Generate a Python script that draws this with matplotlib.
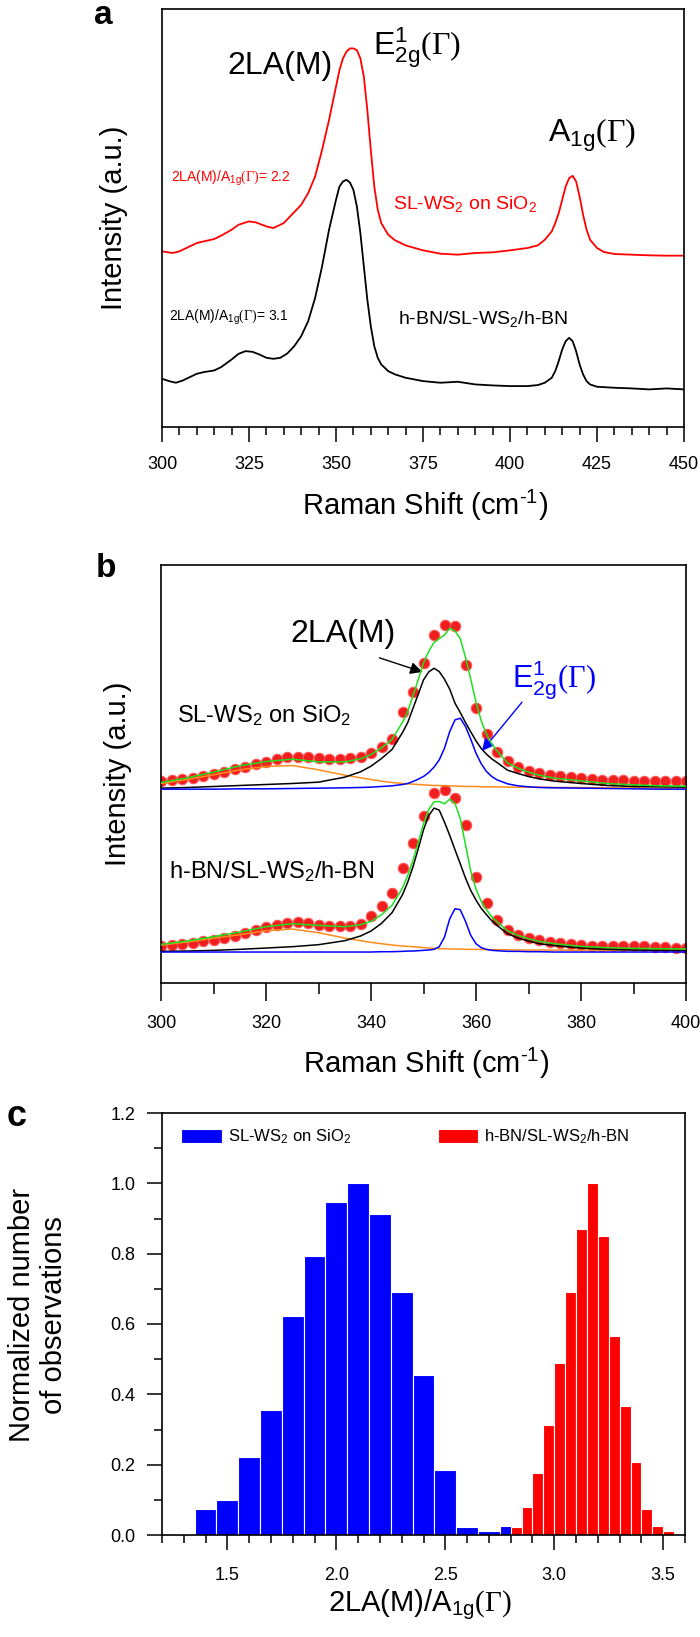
import numpy as np
import matplotlib.pyplot as plt
from matplotlib.ticker import MultipleLocator

plt.rcParams['font.family'] = ['Liberation Sans', 'DejaVu Sans']
plt.rcParams['mathtext.fontset'] = 'custom'
plt.rcParams['mathtext.rm'] = 'Liberation Sans'
plt.rcParams['mathtext.it'] = 'Liberation Sans:italic'
plt.rcParams['mathtext.bf'] = 'Liberation Sans:bold'
plt.rcParams['mathtext.sf'] = 'Liberation Serif'

# ---- panel a: Raman spectra (arbitrary units, 0 = bottom of frame) ----
shift_sio2_a = [300, 303, 305, 307, 310, 312, 315, 317, 320, 322, 325, 327, 330, 332, 335, 337,
                340, 342, 344, 346, 348, 350, 351, 352, 353, 354, 355, 356, 357, 358, 359, 360,
                361, 362, 363, 365, 367, 370, 375, 380, 385, 390, 395, 400, 405, 408, 410, 412,
                413, 414, 415, 416, 417, 418, 419, 420, 421, 422, 423, 425, 427, 430, 435, 440,
                445, 450]
int_sio2_a = [528, 523, 528, 538, 553, 558, 565, 575, 593, 608, 618, 615, 603, 598, 613, 635,
              668, 703, 753, 833, 923, 1023, 1073, 1108, 1128, 1138, 1138, 1133, 1108, 1053, 953, 833,
              723, 653, 613, 578, 561, 546, 531, 521, 518, 523, 525, 531, 538, 546, 563, 588,
              613, 643, 683, 723, 748, 755, 738, 693, 638, 593, 563, 538, 526, 520, 518, 516,
              515, 515]

shift_hbn_a = [300, 302, 304, 306, 308, 310, 312, 315, 317, 320, 322, 324, 326, 328, 330, 332,
               334, 336, 338, 340, 342, 344, 346, 348, 350, 351, 352, 353, 354, 355, 356, 357,
               358, 359, 360, 361, 362, 363, 365, 367, 370, 375, 380, 385, 390, 395, 400, 405,
               408, 410, 412, 413, 414, 415, 416, 417, 418, 419, 420, 421, 422, 423, 425, 430,
               435, 440, 445, 450]
int_hbn_a = [145, 138, 133, 140, 150, 160, 165, 170, 180, 203, 220, 228, 226, 218, 208, 205,
             208, 221, 243, 273, 318, 388, 483, 593, 683, 723, 738, 743, 735, 713, 663, 583,
             483, 383, 303, 243, 208, 188, 168, 158, 148, 138, 133, 136, 128, 125, 123, 123,
             126, 133, 148, 168, 198, 233, 258, 268, 258, 228, 188, 158, 138, 128, 121, 118,
             116, 113, 116, 113]

# ---- panel b: peak fit, component heights above each baseline ----
shift_fit = [300, 305, 310, 315, 320, 325, 330, 335, 338, 340, 342, 344, 346, 347, 348, 349,
             350, 351, 352, 353, 354, 355, 356, 357, 358, 359, 360, 361, 362, 363, 364, 366,
             368, 370, 372, 375, 380, 385, 390, 395, 400]
base_sio2_b = 582
base_hbn_b = 93

orange_sio2 = [17, 29, 43, 58, 68, 71, 58, 42, 34, 29, 24, 20, 17, 16, 15, 14,
               13, 12, 11, 11, 10, 10, 9, 9, 8, 8, 8, 7, 7, 7, 7, 6,
               6, 6, 6, 5, 5, 4, 4, 3, 3]
la_sio2 = [3, 5, 8, 11, 14, 17, 21, 36, 52, 69, 92, 119, 170, 200, 243, 285,
           328, 352, 363, 353, 330, 300, 258, 230, 200, 172, 145, 122, 105, 91, 80, 57,
           47, 38, 31, 24, 17, 11, 8, 7, 6]
e2g_sio2 = [0, 0, 0, 1, 1, 2, 3, 4, 5, 6, 8, 10, 14, 17, 23, 30,
            38, 50, 66, 88, 123, 173, 208, 213, 188, 150, 108, 76, 53, 38, 28, 16,
            10, 7, 5, 4, 3, 2, 1, 0, 0]

orange_hbn = [21, 30, 41, 52, 64, 69, 58, 42, 34, 29, 25, 21, 18, 17, 16, 15,
              13, 12, 11, 10, 10, 9, 9, 9, 8, 8, 8, 8, 7, 7, 7, 7,
              6, 6, 6, 6, 5, 5, 5, 5, 5]
la_hbn = [2, 3, 5, 8, 12, 16, 22, 34, 48, 63, 86, 118, 172, 210, 256, 310,
          367, 410, 432, 426, 390, 350, 307, 265, 222, 185, 156, 131, 112, 94, 80, 55,
          42, 33, 25, 19, 12, 8, 6, 5, 4]
e2g_hbn = [0, 0, 0, 0, 0, 0, 0, 0, 0, 0, 1, 1, 2, 3, 3, 4,
           5, 6, 8, 16, 45, 100, 130, 127, 92, 50, 25, 13, 8, 5, 4, 2,
           2, 1, 1, 0, 0, 0, 0, 0, 0]

shift_dots = [300, 302, 304, 306, 308, 310, 312, 314, 316, 318, 320, 322, 324, 326, 328, 330,
              332, 334, 336, 338, 340, 342, 344, 346, 348, 350, 352, 354, 356, 358, 360, 362,
              364, 366, 368, 370, 372, 374, 376, 378, 380, 382, 384, 386, 388, 390, 392, 394,
              396, 398, 400]
dots_sio2 = [605, 608, 612, 616, 622, 628, 635, 642, 650, 658, 665, 672, 678, 680, 678, 675,
             673, 673, 675, 680, 690, 710, 732, 815, 875, 960, 1045, 1075, 1072, 955, 825, 748,
             695, 668, 650, 638, 630, 624, 620, 617, 614, 612, 610, 609, 608, 607, 606, 605,
             605, 605, 605]
dots_hbn = [112, 114, 117, 120, 125, 130, 135, 142, 150, 158, 167, 175, 180, 182, 180, 175,
            172, 170, 170, 178, 200, 230, 270, 345, 420, 500, 570, 578, 555, 475, 318, 240,
            190, 160, 145, 135, 128, 123, 119, 116, 114, 112, 112, 112, 112, 112, 110, 108,
            108, 106, 106]

# ---- panel c: histograms of 2LA(M)/A1g ratio ----
ratio_sio2 = [1.4, 1.5, 1.6, 1.7, 1.8, 1.9, 2.0, 2.1, 2.2, 2.3, 2.4, 2.5, 2.6, 2.7, 2.8]
count_sio2 = [0.074, 0.100, 0.223, 0.356, 0.624, 0.793, 0.947, 1.0, 0.912, 0.691, 0.454,
              0.185, 0.024, 0.010, 0.027]
ratio_hbn = [2.825, 2.875, 2.925, 2.975, 3.025, 3.075, 3.125, 3.175, 3.225, 3.275, 3.325,
             3.375, 3.425, 3.475, 3.525]
count_hbn = [0.024, 0.079, 0.177, 0.313, 0.489, 0.691, 0.870, 1.0, 0.850, 0.565, 0.366,
             0.207, 0.074, 0.027, 0.010]

GAM = r'$\mathsf{(\Gamma)}$'
E2G = r'E$^{\mathrm{1}}_{\mathrm{2g}}$' + GAM
A1G = r'A$_{\mathrm{1g}}$' + GAM
CM = r'Raman Shift (cm$^{\text{-1}}$)'
W, H = 700, 1637

fig = plt.figure(figsize=(7, 16.37), dpi=100)


def axes_px(x0, y0, x1, y1):
    return fig.add_axes([x0 / W, 1 - y1 / H, (x1 - x0) / W, (y1 - y0) / H])


def style(ax, major, minor, pad=10):
    for s in ax.spines.values():
        s.set_linewidth(1.2)
    ax.xaxis.set_major_locator(MultipleLocator(major))
    ax.xaxis.set_minor_locator(MultipleLocator(minor))
    ax.tick_params(axis='x', which='major', direction='out', length=11, width=1.1,
                   labelsize=13, pad=pad, top=False)
    ax.tick_params(axis='x', which='minor', direction='out', length=6, width=1.1, top=False)


# ---------------- a ----------------
ax1 = axes_px(162, 9.5, 684, 427)
ax1.plot(shift_sio2_a, int_sio2_a, color='red', lw=1.3)
ax1.plot(shift_hbn_a, int_hbn_a, color='black', lw=1.3)
ax1.set_xlim(300, 450)
ax1.set_ylim(0, 1255)
ax1.set_yticks([])
style(ax1, 25, 5)

ax1.text(0.125, 0.845, '2LA(M)', transform=ax1.transAxes, fontsize=23)
ax1.text(0.404, 0.893, E2G, transform=ax1.transAxes, fontsize=23)
ax1.text(0.739, 0.683, A1G, transform=ax1.transAxes, fontsize=23)
ax1.text(0.017, 0.587, r'2LA(M)/A$_{\mathrm{1g}}$' + GAM + '= 2.2', transform=ax1.transAxes,
         fontsize=10, color='red')
ax1.text(0.013, 0.254, r'2LA(M)/A$_{\mathrm{1g}}$' + GAM + '= 3.1', transform=ax1.transAxes,
         fontsize=10, color='black')
ax1.text(0.4425, 0.522, r'SL-WS$_2$ on SiO$_2$', transform=ax1.transAxes,
         fontsize=14, color='red')
ax1.text(0.452, 0.247, r'h-BN/SL-WS$_2$/h-BN', transform=ax1.transAxes, fontsize=14)

fig.text(114 / W, 1 - 218 / H, 'Intensity (a.u.)', rotation=90, fontsize=21,
         ha='center', va='center')
fig.text(425 / W, 1 - 505 / H, CM, fontsize=21, ha='center', va='center')
fig.text(94 / W, 1 - 24 / H, 'a', fontsize=24, fontweight='bold')

# ---------------- b ----------------
ax2 = axes_px(161, 565, 686, 983)
for base, dots, orange, la, e2g in [(base_sio2_b, dots_sio2, orange_sio2, la_sio2, e2g_sio2),
                                    (base_hbn_b, dots_hbn, orange_hbn, la_hbn, e2g_hbn)]:
    orange = np.array(orange)
    la = np.array(la)
    e2g = np.array(e2g)
    ax2.plot(shift_dots, dots, 'o', ms=7.5, mfc='#f01e1e', mec='#ff5a5a', mew=0.8, zorder=2)
    ax2.plot(shift_fit, base + orange, color='#ff8c1a', lw=1.1, zorder=3)
    ax2.plot(shift_fit, base + la, color='black', lw=1.1, zorder=3)
    ax2.plot(shift_fit, base + e2g, color='#0000ff', lw=1.1, zorder=3)
    ax2.plot(shift_fit, base + orange + la + e2g, color='#1ee01e', lw=1.1, zorder=4)
ax2.set_xlim(300, 400)
ax2.set_ylim(0, 1255)
ax2.set_yticks([])
style(ax2, 20, 10)
ax2.tick_params(axis='x', which='major', length=13)
ax2.tick_params(axis='x', which='minor', length=8)

ax2.text(0.2457, 0.8165, '2LA(M)', transform=ax2.transAxes, fontsize=23)
ax2.annotate('', xy=(0.503, 0.742), xytext=(0.411, 0.780), xycoords='axes fraction',
             arrowprops=dict(arrowstyle='-|>', color='black', lw=1.0, mutation_scale=18))
ax2.text(0.669, 0.709, E2G, transform=ax2.transAxes, fontsize=22, color='#0000ff')
ax2.annotate('', xy=(0.608, 0.550), xytext=(0.691, 0.677), xycoords='axes fraction',
             arrowprops=dict(arrowstyle='-|>', color='#0000ff', lw=1.0, mutation_scale=18))
ax2.text(0.030, 0.625, r'SL-WS$_2$ on SiO$_2$', transform=ax2.transAxes, fontsize=17)
ax2.text(0.015, 0.251, r'h-BN/SL-WS$_2$/h-BN', transform=ax2.transAxes, fontsize=17)

fig.text(118 / W, 1 - 774 / H, 'Intensity (a.u.)', rotation=90, fontsize=21,
         ha='center', va='center')
fig.text(426 / W, 1 - 1063 / H, CM, fontsize=21, ha='center', va='center')
fig.text(96 / W, 1 - 577 / H, 'b', fontsize=24, fontweight='bold')

# ---------------- c ----------------
ax3 = axes_px(162, 1113, 685, 1535)
b1 = ax3.bar(ratio_sio2, count_sio2, width=0.1, color='#0000ff', edgecolor='white',
             linewidth=0.8, label=r'SL-WS$_2$ on SiO$_2$')
b2 = ax3.bar(ratio_hbn, count_hbn, width=0.05, color='#ff0000', edgecolor='white',
             linewidth=0.8, label=r'h-BN/SL-WS$_2$/h-BN')
ax3.set_xlim(1.2, 3.6)
ax3.set_ylim(0, 1.2)
style(ax3, 0.5, 0.1, pad=12)
ax3.xaxis.set_major_formatter(plt.FormatStrFormatter('%.1f'))
ax3.yaxis.set_major_locator(MultipleLocator(0.2))
ax3.yaxis.set_minor_locator(MultipleLocator(0.1))
ax3.yaxis.set_major_formatter(plt.FormatStrFormatter('%.1f'))
ax3.tick_params(axis='y', which='major', direction='out', length=11, width=1.1,
                labelsize=13, pad=8, right=False)
ax3.tick_params(axis='y', which='minor', direction='out', length=6, width=1.1, right=False)
ax3.legend(handles=[b1, b2], loc='upper left', bbox_to_anchor=(0.036, 0.965), ncol=2,
           frameon=False, fontsize=12, handlelength=2.45, handleheight=0.9,
           handletextpad=0.36, columnspacing=5.2, borderaxespad=0, borderpad=0)

fig.text(38 / W, 1 - 1315 / H, 'Normalized number\nof observations', rotation=90,
         fontsize=21, ha='center', va='center', linespacing=1.2)
fig.text(420 / W, 1 - 1605 / H, r'2LA(M)/A$_{\mathrm{1g}}$' + GAM, fontsize=21,
         ha='center', va='center')
fig.text(7 / W, 1 - 1126 / H, 'c', fontsize=26, fontweight='bold')

fig.savefig('out.png', dpi=100)
